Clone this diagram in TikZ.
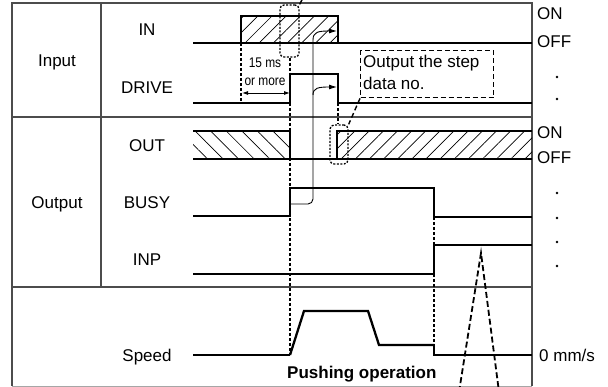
\documentclass[tikz,border=0pt]{standalone}
\usepackage{fontspec}
\setmainfont{Liberation Sans}
\usetikzlibrary{patterns.meta,arrows.meta}
\begin{document}
\begin{tikzpicture}[x=1pt,y=-1pt,
  every node/.style={font=\fontsize{17}{20}\selectfont, inner sep=0pt},
  frame/.style={line width=1.2pt, black!70},
  sig/.style={line width=2.8pt, line cap=butt, line join=miter},
  prof/.style={line width=2.3pt, line join=miter},
  dsh/.style={line width=1.3pt, dash pattern=on 3pt off 2pt},
  dotbox/.style={draw, line width=1.3pt, dash pattern=on 2pt off 1.5pt, rounded corners=4pt},
  dashbox/.style={draw, line width=1.4pt, dash pattern=on 5pt off 3pt},
  leader/.style={line width=1.4pt, dash pattern=on 5pt off 3pt},
  thinln/.style={line width=0.9pt},
  tip/.style={-{Latex[length=8pt,width=5pt]}},
  hatchR/.style={pattern={Lines[angle=45,distance=10pt,line width=0.7pt]}},
  hatchL/.style={pattern={Lines[angle=-45,distance=11pt,line width=0.7pt]}},
  lbl/.style={anchor=base},
  rlbl/.style={anchor=base west}
]
\useasboundingbox (0,0) rectangle (608,387);

% frame
\draw[frame] (12,386) -- (12,3) -- (532,3) -- (532,386);
\draw[line width=1pt, black!35] (12,386) -- (532,386);
\draw[frame] (12,117) -- (532,117);
\draw[frame] (12,287) -- (532,287);
\draw[frame] (101,3) -- (101,287);

% left labels
\node[lbl] (tInput) at (57,67) {Input};
\node[lbl] (tOutput) at (57,209) {Output};
\node[lbl] (tIN) at (147,36) {IN};
\node[lbl] (tDRIVE) at (147,94) {DRIVE};
\node[lbl] (tOUT) at (147,151.5) {OUT};
\node[lbl] (tBUSY) at (147,209) {BUSY};
\node[lbl] (tINP) at (147,266) {INP};
\node[lbl] (tSpeed) at (147,362) {Speed};

% right labels
\node[rlbl] (on1) at (537,20) {ON};
\node[rlbl] (off1) at (537,48) {OFF};
\node[rlbl] (on2) at (537,139) {ON};
\node[rlbl] (off2) at (537,164) {OFF};
\node[rlbl] (zero) at (539,362) {0 mm/s};
\foreach \yy in {77,99,193,218,242,266} \fill (557,\yy) circle (1.3pt);

% IN
\fill[hatchR] (241,16) rectangle (338,43);
\draw[sig] (193,43) -- (532,43);
\draw[sig] (241,43) -- (241,16) -- (338,16) -- (338,43);

% DRIVE
\draw[sig] (193,103) -- (290,103) -- (290,74) -- (338,74) -- (338,103) -- (532,103);

% OUT
\fill[hatchL] (193,131) rectangle (290,159);
\fill[hatchR] (337,131) rectangle (532,159);
\draw[sig] (193,131) -- (290,131) -- (290,159);
\draw[sig] (193,159) -- (532,159);
\draw[sig] (337,159) -- (337,131) -- (532,131);

% BUSY
\draw[sig] (193,216) -- (290,216) -- (290,188) -- (434,188) -- (434,217) -- (532,217);

% INP
\draw[sig] (193,274) -- (434,274) -- (434,245) -- (532,245);

% Speed
\draw[sig] (193,355) -- (290,355);
\draw[prof] (290,355) -- (304,311) -- (368,311) -- (379,345) -- (434,345);
\draw[sig] (434,344) -- (434,355) -- (532,355);
\node[anchor=base west, font=\fontsize{17}{20}\selectfont\bfseries] (push) at (287,378) {Pushing operation};

% dotted rounded boxes
\node[dotbox, minimum width=19pt, minimum height=52pt] (r1) at (289.5,31) {};
\node[dotbox, minimum width=18pt, minimum height=39pt] (r2) at (339,144.5) {};

% dashed verticals
\draw[dsh] (241,43) -- (241,103);
\draw[dsh] (r1.south -| 290,0) -- (290,74);
\draw[dsh] (290,103) -- (290,355);
\draw[dsh] (338,103) -- (r2.north -| 338,0);
\draw[dsh] (434,217) -- (434,245);
\draw[dsh] (434,274) -- (434,345);

% 15 ms
\node[anchor=base, font=\fontsize{14}{14}\selectfont] (t15) at (265,68) {\scalebox{0.85}[1]{15 ms}};
\node[anchor=base, font=\fontsize{14}{14}\selectfont] (tmore) at (265,86) {\scalebox{0.85}[1]{or more}};
\draw[thinln, {Latex[length=6pt,width=4pt]}-{Latex[length=6pt,width=4pt]}] (242,93) -- (290,93);

% output box
\node[dashbox, anchor=north west, minimum width=133pt, minimum height=47pt] (ob) at (360,50) {};
\node[anchor=base west] (ob1) at (363,68) {Output the step};
\node[anchor=base west] (ob2) at (363,90) {data no.};
\draw[leader] (ob.south west) -- (r2.north east);
\coordinate (topend) at (304,-4);
\draw[leader] (r1.north east) -- (topend);

% thin arrows
\coordinate (bz) at (290,204);
\coordinate (a1) at (313,40);
\coordinate (a2) at (313,95);
\draw[thinln, rounded corners=5pt] (bz) -- (313,204) -- (a1);
\draw[thinln, tip] (a1) .. controls (313,32) and (318,31) .. (337,31);
\draw[thinln, tip] (a2) .. controls (313,88) and (318,87) .. (337,87);

% pushing triangle
\coordinate (apex) at (481,253);
\draw[line width=1.8pt, dash pattern=on 6pt off 3pt] (459,392) -- (apex) -- (499,392);
\end{tikzpicture}
\end{document}
